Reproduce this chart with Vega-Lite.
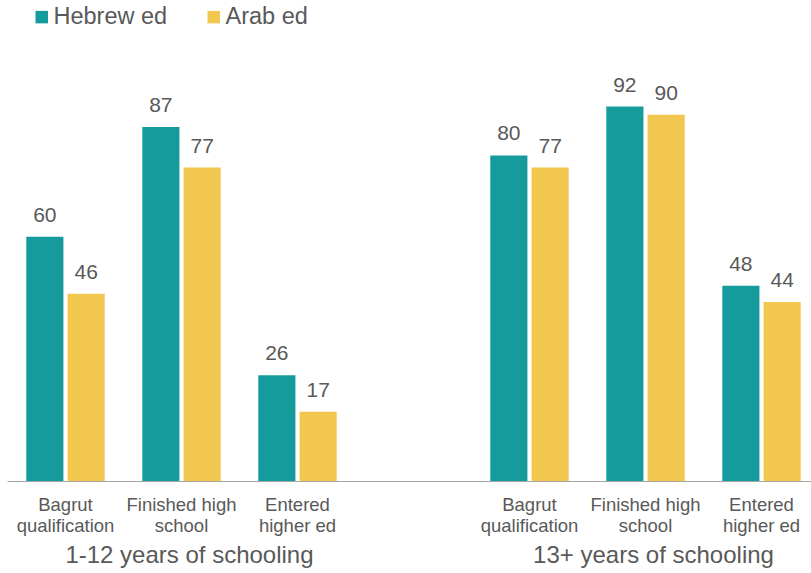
{
  "$schema": "https://vega.github.io/schema/vega-lite/v6.json",
  "width": 804,
  "height": 407,
  "autosize": "none",
  "padding": {"left": 7, "top": 74, "right": 0, "bottom": 92},
  "background": "white",
  "config": {"view": {"stroke": null}, "font": "Liberation Sans"},
  "datasets": {
    "bars": [
      {"slot": "1-12 Bagrut", "series": "Hebrew ed", "value": 60},
      {"slot": "1-12 Bagrut", "series": "Arab ed", "value": 46},
      {"slot": "1-12 Finished", "series": "Hebrew ed", "value": 87},
      {"slot": "1-12 Finished", "series": "Arab ed", "value": 77},
      {"slot": "1-12 Entered", "series": "Hebrew ed", "value": 26},
      {"slot": "1-12 Entered", "series": "Arab ed", "value": 17},
      {"slot": "13+ Bagrut", "series": "Hebrew ed", "value": 80},
      {"slot": "13+ Bagrut", "series": "Arab ed", "value": 77},
      {"slot": "13+ Finished", "series": "Hebrew ed", "value": 92},
      {"slot": "13+ Finished", "series": "Arab ed", "value": 90},
      {"slot": "13+ Entered", "series": "Hebrew ed", "value": 48},
      {"slot": "13+ Entered", "series": "Arab ed", "value": 44}
    ],
    "groups": [
      {"slot": "1-12 Finished", "group": "1-12 years of schooling"},
      {"slot": "13+ Finished", "group": "13+ years of schooling"}
    ]
  },
  "layer": [
    {
      "data": {"name": "bars"},
      "mark": {"type": "bar"},
      "encoding": {
        "x": {
          "field": "slot",
          "type": "nominal",
          "sort": null,
          "scale": {
            "domain": ["1-12 Bagrut", "1-12 Finished", "1-12 Entered", "gap", "13+ Bagrut", "13+ Finished", "13+ Entered"],
            "paddingInner": 0.324,
            "paddingOuter": 0.1275,
            "align": 0.652
          },
          "axis": {
            "title": null,
            "labelAngle": 0,
            "ticks": false,
            "domainColor": "#A6A6A6",
            "domainWidth": 1,
            "labelPadding": 14,
            "labelFontSize": 18.5,
            "labelColor": "#595959",
            "labelLineHeight": 21,
            "labelExpr": "indexof(datum.value,'Bagrut')>=0 ? ['Bagrut','qualification'] : indexof(datum.value,'Finished')>=0 ? ['Finished high','school'] : indexof(datum.value,'Entered')>=0 ? ['Entered','higher ed'] : ''"
          }
        },
        "xOffset": {
          "field": "series",
          "type": "nominal",
          "sort": ["Hebrew ed", "Arab ed"],
          "scale": {"paddingInner": 0.1, "paddingOuter": 0}
        },
        "y": {
          "field": "value",
          "type": "quantitative",
          "scale": {"domain": [0, 100], "nice": false},
          "axis": null
        },
        "color": {
          "field": "series",
          "type": "nominal",
          "sort": ["Hebrew ed", "Arab ed"],
          "scale": {"domain": ["Hebrew ed", "Arab ed"], "range": ["#169B9D", "#F2C750"]},
          "legend": {
            "title": null,
            "orient": "none",
            "legendX": 23,
            "legendY": -69,
            "direction": "horizontal",
            "symbolType": "square",
            "symbolSize": 156,
            "symbolStrokeWidth": 0,
            "labelFontSize": 23.5,
            "labelColor": "#595959",
            "labelOffset": 0,
            "columnPadding": 34,
            "padding": 0
          }
        }
      }
    },
    {
      "data": {"name": "bars"},
      "mark": {"type": "text", "baseline": "alphabetic", "dy": -15, "fontSize": 21, "color": "#595959"},
      "encoding": {
        "x": {"field": "slot", "type": "nominal", "sort": null},
        "xOffset": {"field": "series", "type": "nominal", "sort": ["Hebrew ed", "Arab ed"]},
        "y": {"field": "value", "type": "quantitative"},
        "text": {"field": "value", "type": "quantitative"}
      }
    },
    {
      "data": {"name": "groups"},
      "mark": {"type": "text", "baseline": "alphabetic", "dy": 82, "dx": 8, "fontSize": 24, "color": "#595959"},
      "encoding": {
        "x": {"field": "slot", "type": "nominal", "sort": null},
        "y": {"datum": 0, "type": "quantitative"},
        "text": {"field": "group", "type": "nominal"}
      }
    }
  ]
}
